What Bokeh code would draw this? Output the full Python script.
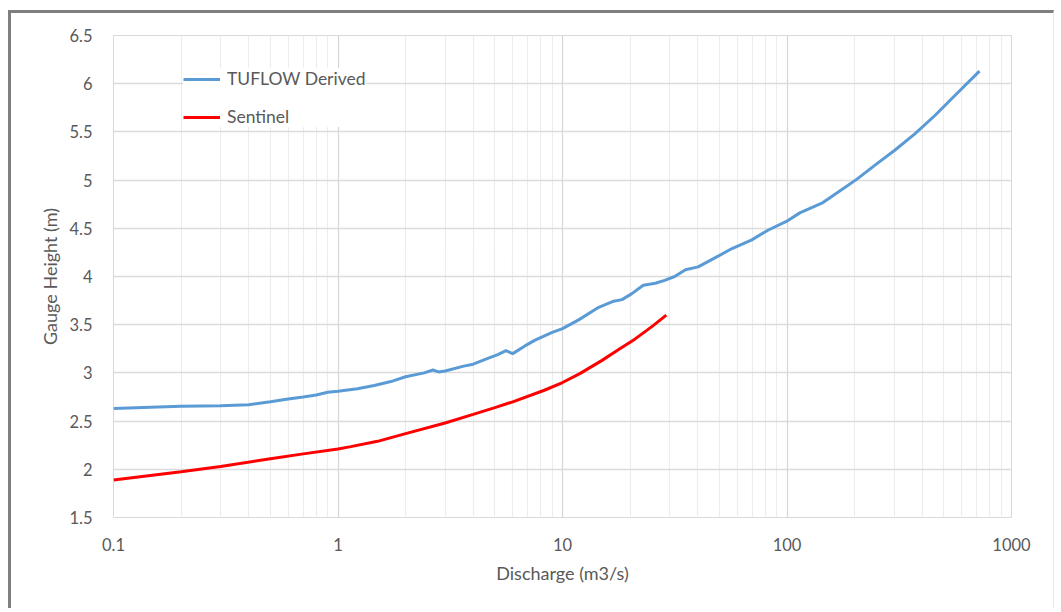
from bokeh.plotting import figure
from bokeh.models import FixedTicker, Legend, LegendItem
from bokeh.embed import file_html
from bokeh.resources import INLINE

# ---- data ----
tuflow_q = [0.1, 0.2, 0.3, 0.4, 0.5, 0.6, 0.7, 0.8, 0.9, 1.0, 1.22, 1.45, 1.72, 2.0,
            2.42, 2.65, 2.8, 3.0, 3.63, 4.0, 4.65, 5.15, 5.6, 6.0, 6.8, 7.55, 9.0, 10.0,
            11.8, 14.5, 16.7, 18.4, 20.3, 22.9, 25.9, 28.5, 31.6, 35.3, 40.2, 47.5,
            56.9, 69.7, 82.2, 101, 114, 143, 175, 205, 245, 302, 371, 456, 561, 720]
tuflow_h = [2.63, 2.655, 2.66, 2.67, 2.70, 2.73, 2.75, 2.77, 2.80, 2.81, 2.835, 2.87,
            2.91, 2.96, 3.00, 3.03, 3.01, 3.02, 3.07, 3.09, 3.15, 3.19, 3.23, 3.20,
            3.28, 3.34, 3.42, 3.46, 3.55, 3.68, 3.74, 3.76, 3.82, 3.91, 3.93, 3.96,
            4.00, 4.07, 4.10, 4.19, 4.29, 4.38, 4.48, 4.58, 4.66, 4.76, 4.90, 5.01,
            5.15, 5.31, 5.48, 5.67, 5.88, 6.13]

sentinel_q = [0.1, 0.2, 0.3, 0.5, 0.7, 1.0, 1.14, 1.5, 2.0, 3.0, 4.0, 5.0, 6.0, 8.3,
              10.0, 12.0, 15.0, 18.0, 21.0, 25.0, 29.0]
sentinel_h = [1.89, 1.975, 2.03, 2.11, 2.16, 2.21, 2.235, 2.29, 2.37, 2.48, 2.57, 2.64,
              2.70, 2.82, 2.90, 2.995, 3.13, 3.25, 3.35, 3.48, 3.60]

x_ticks = [0.1, 1, 10, 100, 1000]
x_tick_labels = ["0.1", "1", "10", "100", "1000"]
x_minor = [m * d for d in [0.1, 1, 10, 100] for m in range(2, 10)]
y_ticks = [1.5, 2, 2.5, 3, 3.5, 4, 4.5, 5, 5.5, 6, 6.5]
y_tick_labels = ["1.5", "2", "2.5", "3", "3.5", "4", "4.5", "5", "5.5", "6", "6.5"]

series_names = ["TUFLOW Derived", "Sentinel"]
series_colors = ["#5B9BD5", "#FF0000"]

FONT = "Lato"
TXT = "#595959"

p = figure(width=1046, height=598, x_axis_type="log",
           x_range=(0.1, 1000), y_range=(1.5, 6.5),
           output_backend="svg", toolbar_location=None,
           min_border_left=102, min_border_right=46,
           min_border_top=22, min_border_bottom=94)
p.styles = {"margin-left": "8px", "margin-top": "10px",
            "border-top": "3px solid #7f7f7f", "border-left": "3px solid #7f7f7f",
            "border-right": "1px solid #e6e6e6"}
p.background_fill_color = "white"
p.border_fill_color = "white"
p.outline_line_color = "#d9d9d9"

r1 = p.line(tuflow_q, tuflow_h, line_color=series_colors[0], line_width=3)
r2 = p.line(sentinel_q, sentinel_h, line_color=series_colors[1], line_width=3)

p.xaxis.ticker = FixedTicker(ticks=x_ticks, minor_ticks=x_minor)
p.xaxis.major_label_overrides = {t: l for t, l in zip(x_ticks, x_tick_labels)}
p.yaxis.ticker = FixedTicker(ticks=y_ticks)
p.yaxis.major_label_overrides = {t: l for t, l in zip(y_ticks, y_tick_labels)}

for ax in (p.xaxis, p.yaxis):
    ax.axis_line_color = None
    ax.major_tick_line_color = None
    ax.minor_tick_line_color = None
    ax.major_label_text_font = FONT
    ax.major_label_text_font_size = "16.5px"
    ax.major_label_text_color = TXT
    ax.axis_label_text_font = FONT
    ax.axis_label_text_font_size = "18px"
    ax.axis_label_text_font_style = "normal"
    ax.axis_label_text_color = TXT

p.xaxis.axis_label = "Discharge (m3/s)"
p.yaxis.axis_label = "Gauge Height (m)"
p.xaxis.major_label_standoff = 14
p.yaxis.major_label_standoff = 15
p.xaxis.axis_label_standoff = 8
p.yaxis.axis_label_standoff = 5

p.xgrid.grid_line_color = "#d6d6d6"
p.xgrid.minor_grid_line_color = "#ededed"
p.ygrid.grid_line_color = "#dcdcdc"
p.xgrid.grid_line_width = 1.2
p.xgrid.minor_grid_line_width = 1.2
p.ygrid.grid_line_width = 1.5

legend = Legend(items=[LegendItem(label=series_names[0], renderers=[r1]),
                       LegendItem(label=series_names[1], renderers=[r2])],
                location=(70, 390), orientation="vertical")
legend.border_line_color = None
legend.background_fill_color = "white"
legend.background_fill_alpha = 1.0
legend.padding = 7
legend.margin = 0
legend.spacing = 17
legend.glyph_width = 37
legend.glyph_height = 20
legend.label_height = 20
legend.label_standoff = 7
legend.label_text_font = FONT
legend.label_text_font_size = "17.5px"
legend.label_text_color = TXT
p.add_layout(legend)

open("out.html", "w").write(file_html(p, INLINE))
